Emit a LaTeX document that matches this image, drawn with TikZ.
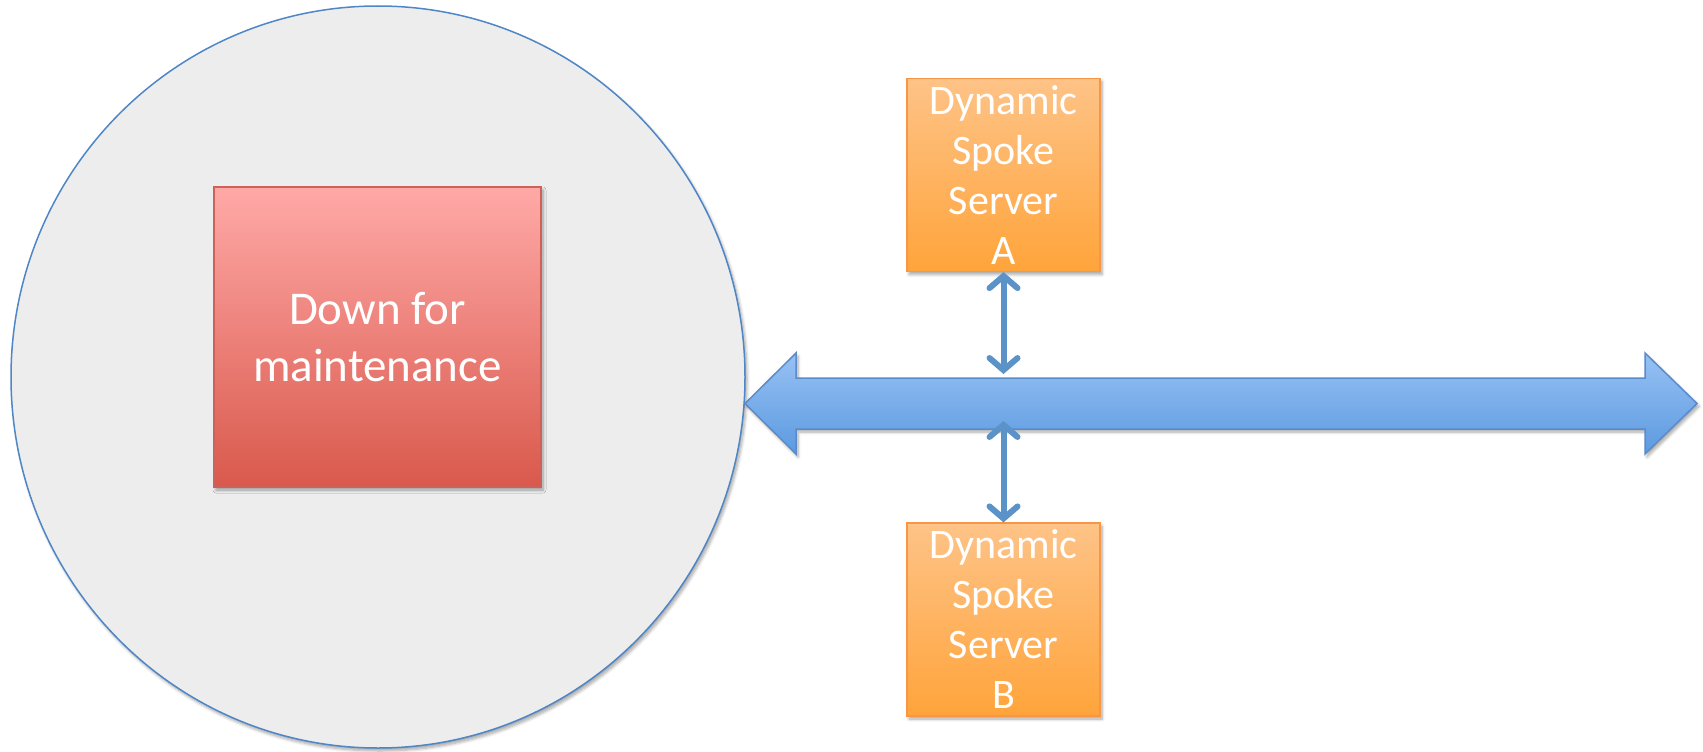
\documentclass[tikz,border=0pt]{standalone}
\usepackage{fontspec}
\setmainfont{Carlito}
\usetikzlibrary{arrows.meta,shadows.blur}

\definecolor{poolfill}{HTML}{EDEDED}
\definecolor{poolline}{HTML}{4F86C6}
\definecolor{redtop}{HTML}{FFA9A7}
\definecolor{redbot}{HTML}{D9594C}
\definecolor{redline}{HTML}{CF615B}
\definecolor{orgtop}{HTML}{FEC387}
\definecolor{orgbot}{HTML}{FFA43B}
\definecolor{orgline}{HTML}{F79646}
\definecolor{bustop}{HTML}{97C1F4}
\definecolor{busbot}{HTML}{5C9AE0}
\definecolor{busline}{HTML}{5A8BCB}
\definecolor{linkblue}{HTML}{5B92C8}

\begin{document}
\begin{tikzpicture}[x=1pt,y=-1pt,
  softshadow/.style={blur shadow={shadow xshift=2pt, shadow yshift=-3pt,
      shadow opacity=35, shadow blur steps=6, shadow blur radius=3pt}},
  box/.style={draw, line width=1.2pt, softshadow, text=white, align=center,
      inner sep=0pt},
  downbox/.style={box, draw=redline, top color=redtop, bottom color=redbot,
      minimum width=327pt, minimum height=300pt,
      font=\fontsize{47}{57}\selectfont},
  spokebox/.style={box, draw=orgline, top color=orgtop, bottom color=orgbot,
      minimum width=193pt, minimum height=193pt,
      font=\fontsize{42}{50}\selectfont},
  link/.style={draw=linkblue, line width=6pt, line cap=round,
      {Straight Barb[length=12pt,width=28pt,line cap=round]}-{Straight Barb[length=12pt,width=28pt,line cap=round]}}
]
\useasboundingbox (0,0) rectangle (1703,752);

% clipped heading glyph at the top edge
\node[anchor=base west, inner sep=0pt, font=\fontsize{30}{30}\selectfont] (head) at (1203,-4) {p};

% maintenance pool
\path[fill=poolfill, draw=poolline, line width=1.5pt, softshadow]
  (378,377) ellipse [x radius=367pt, y radius=371pt];

\node[downbox] (down) at (377.5,337) {Down for\\maintenance};

% shared bus
\path[draw=busline, line width=1.5pt, top color=bustop, bottom color=busbot, softshadow]
  (745,403.5) -- (796,353) -- (796,378) -- (1645,378) -- (1645,353)
  -- (1697,403.5) -- (1645,454) -- (1645,429) -- (796,429) -- (796,454) -- cycle;
\coordinate (busA) at (1003.5,374);
\coordinate (busB) at (1003.5,421);

% spoke servers
\node[spokebox] (srvA) at (1003.5,175) {Dynamic\\Spoke\\Server\\A};
\node[spokebox] (srvB) at (1003.5,619.5) {Dynamic\\Spoke\\Server\\B};

\draw[link] (srvA.south) -- (busA);
\draw[link] (busB) -- (srvB.north);
\end{tikzpicture}
\end{document}
